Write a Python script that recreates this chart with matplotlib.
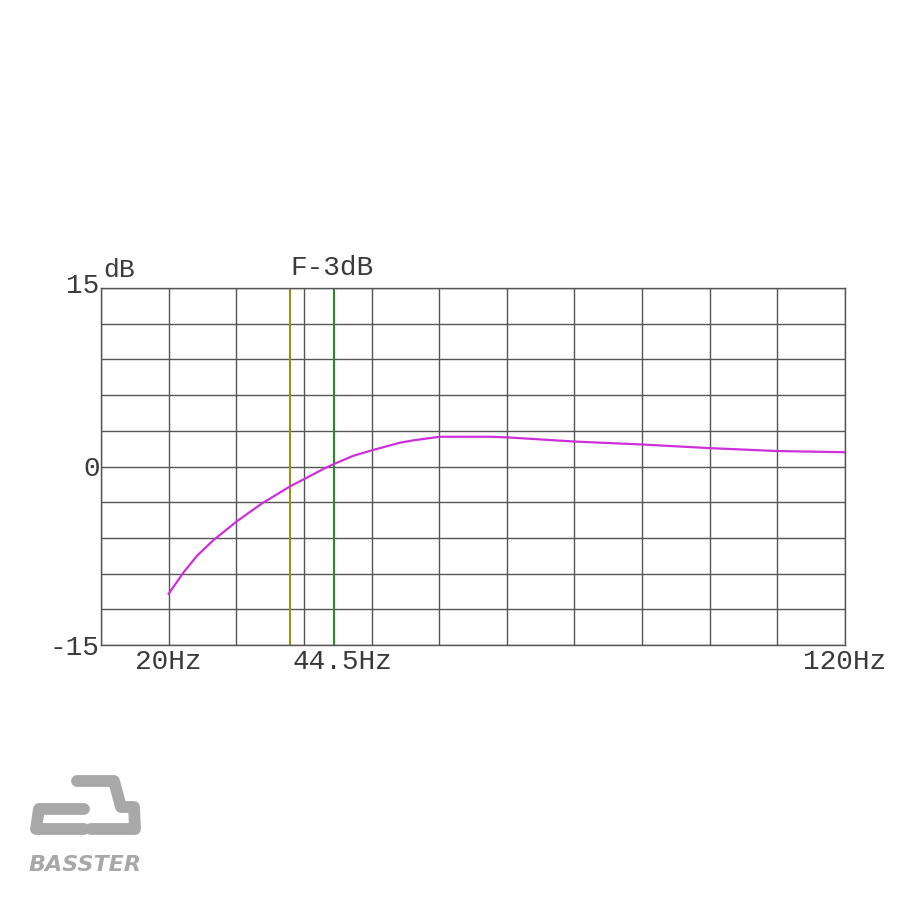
import matplotlib
matplotlib.use("Agg")
import matplotlib.pyplot as plt
import matplotlib.transforms as mtransforms
from matplotlib.lines import Line2D

# frequency response
freq_hz = [20, 22.2, 24.2, 26.6, 30.1, 33.8, 37.0, 38.0, 39.9, 42.9, 44.4, 47.3, 50.3,
           54.2, 56.2, 60.1, 67.5, 70.0, 79.9, 90.0, 99.8, 109.9, 120]
level_db = [-10.7, -8.9, -7.5, -6.2, -4.6, -3.1, -2.0, -1.65, -1.1, -0.2, 0.2, 0.9, 1.4,
            2.0, 2.2, 2.5, 2.5, 2.45, 2.1, 1.85, 1.55, 1.3, 1.2]

marker_yellow_hz = 38.0
marker_green_hz = 44.5

x_ticks = [20, 44.5, 120]
x_tick_labels = ["20Hz", "44.5Hz", "120Hz"]
y_ticks = [-15, 0, 15]
y_tick_labels = ["-15", "0", "15"]

mono = "Liberation Mono"
txt_color = "#3a3a3a"
grid_color = "#555555"

fig = plt.figure(figsize=(9, 9), dpi=100)
ax = fig.add_axes([101 / 900, 1 - 645 / 900, 744 / 900, 357 / 900])

ax.set_xlim(10, 120)
ax.set_ylim(-15, 15)

# grid every 10 Hz and 3 dB
for f in range(10, 121, 10):
    ax.axvline(f, color=grid_color, lw=1.0, zorder=1)
for d in range(-15, 16, 3):
    ax.axhline(d, color=grid_color, lw=1.0, zorder=1)

ax.axvline(marker_yellow_hz, color="#a08c1e", lw=1.5, zorder=2)
ax.axvline(marker_green_hz, color="#2a8a2a", lw=1.5, zorder=2)

ax.plot(freq_hz, level_db, color="#cc30d8", lw=1.6, zorder=3)

for s in ax.spines.values():
    s.set_color(grid_color)
    s.set_linewidth(1.0)

ax.set_xticks(x_ticks)
ax.set_xticklabels(x_tick_labels, family=mono, fontsize=20, color=txt_color)
ax.set_yticks(y_ticks)
ax.set_yticklabels(y_tick_labels, family=mono, fontsize=20, color=txt_color)
ax.tick_params(length=0)
ax.tick_params(axis="x", pad=3)
ax.tick_params(axis="y", pad=1)

# small nudges seen in the original
lab = ax.get_xticklabels()[1]
lab.set_transform(lab.get_transform() + mtransforms.ScaledTranslation(8 / 100, 0, fig.dpi_scale_trans))
lab = ax.get_yticklabels()[2]
lab.set_transform(lab.get_transform() + mtransforms.ScaledTranslation(0, 5 / 100, fig.dpi_scale_trans))

ax.text(0.003, 1.018, "dB", transform=ax.transAxes, family=mono, fontsize=19,
        color=txt_color, ha="left", va="bottom")
ax.text(marker_yellow_hz, 15.55, "F-3dB", family=mono, fontsize=20,
        color=txt_color, ha="left", va="bottom")

# logo, bottom-left
logo = "#a8a8a8"
def px(x, y):
    return x / 900, 1 - y / 900

c_shape = [px(84, 809), px(39, 809), px(36, 829), px(84, 829)]
b_shape = [px(77, 781), px(114, 781), px(121, 807), px(134, 807), px(135, 829), px(91, 829)]
for pts in (c_shape, b_shape):
    xs, ys = zip(*pts)
    fig.add_artist(Line2D(xs, ys, color=logo, lw=8.5, solid_capstyle="round",
                          solid_joinstyle="round", transform=fig.transFigure))
fig.text(29 / 900, 1 - 865 / 900, "BASSTER", fontsize=16, color=logo,
         fontweight="bold", style="italic", ha="left", va="center")

fig.savefig("out.png", dpi=100, facecolor="white")
